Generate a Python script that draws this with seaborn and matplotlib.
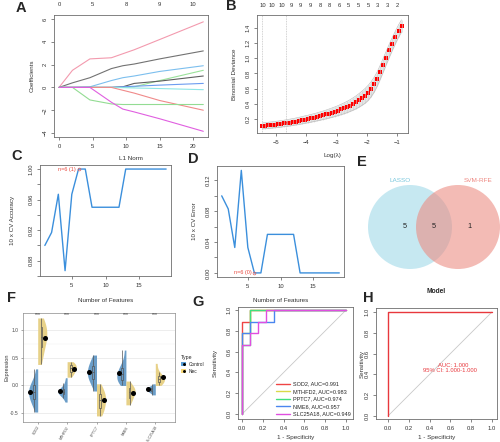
import numpy as np
import pandas as pd
import matplotlib
matplotlib.use("Agg")
import matplotlib.pyplot as plt
from matplotlib.patches import Circle, Patch
from matplotlib.lines import Line2D
import seaborn as sns

# ==========================================
# DATA
# ==========================================
# A - LASSO coefficient paths (L1 norm knots, one list per gene)
a_l1 = [0, 2.0, 4.6, 7.8, 9.5, 11.2, 15.0, 21.5]
a_paths = {
    "g1": [0, 1.5, 2.5, 2.6, 2.95, 3.3, 4.2, 5.75],
    "g2": [0, 0.4, 0.85, 1.65, 1.9, 2.05, 2.5, 3.2],
    "g3": [0, 0, 0.05, 0.6, 0.85, 1.0, 1.4, 1.9],
    "g4": [0, 0, 0, 0, 0, 0.05, 0.6, 1.5],
    "g5": [0, 0, 0, 0, 0.05, 0.35, 0.55, 1.0],
    "g6": [0, 0, 0, 0, 0.05, 0.1, 0.2, 0.35],
    "g7": [0, 0, 0, 0, -0.02, -0.05, -0.1, -0.2],
    "g8": [0, 0, 0, 0, -0.25, -0.5, -1.15, -2.0],
    "g9": [0, 0, -1.1, -1.45, -1.5, -1.5, -1.5, -1.5],
    "g10": [0, 0, 0, -1.3, -1.9, -2.15, -2.75, -3.85],
}
a_colors = ["#f39aae", "#727272", "#7cbfee", "#9be29b", "#5e5e5e",
            "#6c9cf0", "#8ee6e6", "#f08a8a", "#93dc93", "#e05fe0"]
a_top_labels = ["0", "5", "8", "9", "10"]

# B - cross-validated binomial deviance
b_loglam = [-5.45, -5.35, -5.25, -5.15, -5.05, -4.95, -4.85, -4.75, -4.65, -4.55,
            -4.45, -4.35, -4.25, -4.15, -4.05, -3.95, -3.85, -3.75, -3.65, -3.55,
            -3.45, -3.35, -3.25, -3.15, -3.05, -2.95, -2.85, -2.75, -2.65, -2.55,
            -2.45, -2.35, -2.25, -2.15, -2.05, -1.95, -1.85, -1.75, -1.65, -1.55,
            -1.45, -1.35, -1.25, -1.15, -1.05, -0.95, -0.85]
b_dev = [0.107, 0.111, 0.115, 0.119, 0.124,
         0.128, 0.133, 0.139, 0.145, 0.151, 0.158, 0.165, 0.173, 0.181, 0.190,
         0.198, 0.207, 0.216, 0.226, 0.236, 0.247, 0.258, 0.270, 0.282, 0.295,
         0.309, 0.324, 0.340, 0.357, 0.376, 0.397, 0.420, 0.446, 0.475, 0.506,
         0.545, 0.595, 0.655, 0.730, 0.820, 0.915, 1.010, 1.105, 1.195, 1.280, 1.360,
         1.430]
b_se = [0.040, 0.040, 0.041, 0.041, 0.042, 0.042, 0.043, 0.043, 0.044, 0.045,
        0.045, 0.046, 0.047, 0.048, 0.049,
        0.050, 0.051, 0.052, 0.053, 0.055, 0.056, 0.058, 0.060, 0.062, 0.064, 0.066,
        0.069, 0.072, 0.075, 0.078, 0.082, 0.086, 0.090, 0.094, 0.098, 0.100,
        0.100, 0.098, 0.096, 0.094, 0.092, 0.090, 0.088, 0.086, 0.084, 0.082, 0.080]
b_vlines = [-5.45, -4.67]
b_top_pos = [-5.45, -5.13, -4.81, -4.50, -4.18, -3.86, -3.54, -3.23,
             -2.91, -2.59, -2.27, -1.95, -1.64, -1.32, -1.00]
b_top_labels = ["10", "10", "10", "9", "9", "9", "8", "8", "6", "5", "5", "5", "3", "3", "2"]

# C / D - SVM-RFE
n_features = list(range(1, 20))
cv_accuracy = [0.900, 0.917, 0.967, 0.867, 0.967, 1.000, 1.000, 0.950, 0.950, 0.950,
               0.950, 0.950, 1.000, 1.000, 1.000, 1.000, 1.000, 1.000, 1.000]
cv_error = [0.100, 0.083, 0.033, 0.133, 0.033, 0.000, 0.000, 0.050, 0.050, 0.050,
            0.050, 0.050, 0.000, 0.000, 0.000, 0.000, 0.000, 0.000, 0.000]
best_n = 6

# E - Venn
venn_sets = ["LASSO", "SVM-RFE"]
venn_counts = [5, 5, 1]  # LASSO only, both, SVM-RFE only

# F - expression per gene
genes = ["SOD2", "MTHFD2", "PPTC7", "NME6", "SLC25A18"]
ctrl_expr = {
    "SOD2": [-0.48, -0.35, -0.3, -0.25, -0.2, -0.15, -0.12, -0.08, -0.05, 0.0, 0.05, 0.12, 0.3],
    "MTHFD2": [-0.3, -0.22, -0.17, -0.15, -0.13, -0.12, -0.11, -0.1, -0.08, -0.06, -0.03, 0.05, 0.14],
    "PPTC7": [-0.1, 0.02, 0.08, 0.12, 0.16, 0.2, 0.24, 0.28, 0.32, 0.36, 0.4, 0.48, 0.55],
    "NME6": [0.0, 0.05, 0.08, 0.1, 0.13, 0.16, 0.2, 0.24, 0.28, 0.32, 0.35, 0.45, 0.64],
    "SLC25A18": [-0.17, -0.14, -0.12, -0.1, -0.09, -0.08, -0.07, -0.06, -0.05, -0.04, -0.03, -0.01, 0.03],
}
nec_expr = {
    "SOD2": [0.38, 0.55, 0.7, 0.8, 0.88, 0.95, 1.05, 1.12, 1.22],
    "MTHFD2": [0.15, 0.2, 0.24, 0.28, 0.31, 0.34, 0.37, 0.4, 0.43],
    "PPTC7": [-0.55, -0.48, -0.4, -0.32, -0.27, -0.2, -0.15, -0.08, 0.03],
    "NME6": [-0.35, -0.28, -0.22, -0.16, -0.12, -0.08, -0.05, -0.02, 0.08],
    "SLC25A18": [0.0, 0.04, 0.07, 0.1, 0.12, 0.15, 0.18, 0.24, 0.4],
}
sig_labels = ["***", "***", "***", "***", "***"]

# G - ROC per gene
roc_fpr = {
    "SOD2": [0, 0, 0.077, 0.077, 1],
    "MTHFD2": [0, 0, 0.077, 0.077, 1],
    "PPTC7": [0, 0, 0.077, 0.077, 1],
    "NME6": [0, 0, 0.077, 0.077, 0.308, 0.308, 1],
    "SLC25A18": [0, 0, 0.077, 0.077, 0.154, 0.154, 0.231, 0.231, 1],
}
roc_tpr = {
    "SOD2": [0, 0.889, 0.889, 1, 1],
    "MTHFD2": [0, 0.778, 0.778, 1, 1],
    "PPTC7": [0, 0.667, 0.667, 1, 1],
    "NME6": [0, 0.778, 0.778, 0.889, 0.889, 1, 1],
    "SLC25A18": [0, 0.667, 0.667, 0.778, 0.778, 0.889, 0.889, 1, 1],
}
roc_auc = [0.991, 0.983, 0.974, 0.957, 0.949]
roc_colors = ["#ef4444", "#d9d94a", "#3fe07f", "#4a86ef", "#e04ee0"]

# H - combined model
model_fpr = [0, 0, 1]
model_tpr = [0, 1, 1]
model_auc = 1.000
model_ci = (1.000, 1.000)

# ==========================================
# FIGURE
# ==========================================
sns.set_theme(style="white")
plt.rcParams["font.family"] = ["Liberation Sans", "DejaVu Sans"]

W, H = 500, 442
fig = plt.figure(figsize=(W / 100, H / 100), dpi=100)


def add_ax(box):
    l, t, r, b = box
    return fig.add_axes([l / W, 1 - b / H, (r - l) / W, (b - t) / H])


def r_style(ax, fs=4.2):
    for s in ax.spines.values():
        s.set_visible(True)
        s.set_color("#6e6e6e")
        s.set_linewidth(0.6)
    ax.tick_params(axis="both", bottom=True, left=True, direction="out", length=2.2,
                   width=0.5, color="#555555", labelsize=fs, labelcolor="#333333", pad=2.5)
    plt.setp(ax.get_yticklabels(), rotation=90, va="center")


def place_labels(ax, box, xlabel=None, xlab_y=None, ylabel=None, ylab_x=None, fs=4.5):
    l, t, r, b = box
    if xlabel is not None:
        ax.set_xlabel(xlabel, fontsize=fs, color="#333333")
        ax.xaxis.set_label_coords(0.5, (b - xlab_y) / (b - t))
        ax.xaxis.label.set_va("center")
    if ylabel is not None:
        ax.set_ylabel(ylabel, fontsize=fs, color="#333333")
        ax.yaxis.set_label_coords((ylab_x - l) / (r - l), 0.5)
        ax.yaxis.label.set_va("center")


def panel_letter(x, y, s):
    fig.text(x / W, 1 - y / H, s, fontsize=10.5, fontweight="bold", ha="center", va="center")


# ---------- A ----------
box_a = (54, 15, 208, 137)
ax = add_ax(box_a)
df_a = pd.DataFrame([(x, c, k) for k, ys in a_paths.items() for x, c in zip(a_l1, ys)],
                    columns=["l1", "coef", "var"])
sns.lineplot(data=df_a, x="l1", y="coef", hue="var", palette=a_colors, estimator=None,
             sort=False, legend=False, lw=0.8, ax=ax)
ax.set_xlim(-0.75, 22.2)
ax.set_ylim(-4.35, 6.35)
ax.set_xticks([0, 5, 10, 15, 20])
ax.set_yticks([-4, -2, 0, 2, 4, 6])
r_style(ax)
top = ax.secondary_xaxis("top")
top.set_xticks([0, 5, 10, 15, 20], labels=a_top_labels)
top.tick_params(length=0, labelsize=4.2, labelcolor="#333333", pad=5.5)
top.spines["top"].set_visible(False)
place_labels(ax, box_a, "L1 Norm", 159, "Coefficients", 32)

# ---------- B ----------
box_b = (257, 15, 408, 133)
ax = add_ax(box_b)
lo = [d - s for d, s in zip(b_dev, b_se)]
hi = [d + s for d, s in zip(b_dev, b_se)]
ax.fill_between(b_loglam, lo, hi, color="#e4e4e4", lw=0)
ax.errorbar(b_loglam, b_dev, yerr=b_se, fmt="none", ecolor="#cfcfcf", elinewidth=0.4, capsize=0)
ax.plot(b_loglam, lo, color="#b8b8b8", lw=0.4)
ax.plot(b_loglam, hi, color="#b8b8b8", lw=0.4)
for v in b_vlines:
    ax.axvline(v, color="#c4c4c4", lw=0.6, ls=(0, (1, 1)))
sns.scatterplot(x=b_loglam, y=b_dev, color="#ff0000", marker="s", s=7, linewidth=0, ax=ax)
ax.set_xlim(-5.63, -0.636)
ax.set_ylim(0.013, 1.573)
ax.set_xticks([-5, -4, -3, -2, -1])
ax.set_yticks([0.2, 0.4, 0.6, 0.8, 1.0, 1.2, 1.4])
r_style(ax)
top = ax.secondary_xaxis("top")
top.set_xticks(b_top_pos, labels=b_top_labels)
top.tick_params(length=0, labelsize=4.2, labelcolor="#333333", pad=5.0)
top.spines["top"].set_visible(False)
place_labels(ax, box_b, "Log(\u03bb)", 155, "Binomial Deviance", 235)

# ---------- C ----------
box_c = (40, 165, 171, 276)
ax = add_ax(box_c)
sns.lineplot(x=n_features, y=cv_accuracy, color="#3b8fdc", lw=1.0, ax=ax)
ax.plot(best_n, cv_accuracy[best_n - 1], "o", ms=2, mfc="none", mec="#e06060", mew=0.5)
ax.annotate(f"n={best_n} ({cv_accuracy[best_n - 1]:.0f})", xy=(best_n, cv_accuracy[best_n - 1]),
            xytext=(-2, 0), textcoords="offset points", ha="right", va="center",
            fontsize=4, color="#e84a40")
ax.set_xlim(0.28, 19.72)
ax.set_ylim(0.8617, 1.0053)
ax.set_xticks([5, 10, 15])
ax.set_yticks([0.86, 0.88, 0.90, 0.92, 0.94, 0.96, 0.98, 1.00],
              labels=["", "0.88", "", "0.92", "", "0.96", "", "1.00"])
r_style(ax)
place_labels(ax, box_c, "Number of Features", 300, "10 x CV Accuracy", 13)

# ---------- D ----------
box_d = (217, 166, 344, 277)
ax = add_ax(box_d)
sns.lineplot(x=n_features, y=cv_error, color="#3b8fdc", lw=1.0, ax=ax)
ax.plot(best_n, cv_error[best_n - 1], "o", ms=2, mfc="none", mec="#e06060", mew=0.5)
ax.annotate(f"n={best_n} ({cv_error[best_n - 1]:.0f})", xy=(best_n, cv_error[best_n - 1]),
            xytext=(-2, 0), textcoords="offset points", ha="right", va="center",
            fontsize=4, color="#e84a40")
ax.set_xlim(0.28, 19.72)
ax.set_ylim(-0.0053, 0.1387)
ax.set_xticks([5, 10, 15])
ax.set_yticks([0.0, 0.02, 0.04, 0.06, 0.08, 0.10, 0.12],
              labels=["0.00", "", "0.04", "", "0.08", "", "0.12"])
r_style(ax)
place_labels(ax, box_d, "Number of Features", 300, "10 x CV Error", 195)

# ---------- E ----------
ax = add_ax((335, 160, 500, 290))
ax.set_xlim(335, 500)
ax.set_ylim(290, 160)
ax.axis("off")
cy, rad = 227, 42
ax.add_patch(Circle((410, cy), rad, fc="#98d6e7", alpha=0.55, lw=0))
ax.add_patch(Circle((458, cy), rad, fc="#ec8a80", alpha=0.58, lw=0))
ax.text(400, 181, venn_sets[0], color="#77c6dc", fontsize=4.6, ha="center", va="center")
ax.text(478, 181, venn_sets[1], color="#ee8780", fontsize=4.6, ha="center", va="center")
for x, c in zip([405, 434, 469], venn_counts):
    ax.text(x, cy, str(c), fontsize=5.2, ha="center", va="center", color="#222222")

# ---------- F ----------
box_f = (23, 313, 175, 422)
ax = add_ax(box_f)
rows = []
for g in genes:
    rows += [(g, "Control", v) for v in ctrl_expr[g]]
    rows += [(g, "Nec", v) for v in nec_expr[g]]
df_f = pd.DataFrame(rows, columns=["gene", "Type", "expr"])
pal_f = {"Control": "#5a9fd8", "Nec": "#f7d978"}
ax.set_axisbelow(True)
ax.set_yticks([-0.25, 0.25, 0.75], minor=True)
ax.grid(True, which="major", color="#e6e6e6", lw=0.5)
ax.grid(True, which="minor", axis="y", color="#f2f2f2", lw=0.35)
sns.violinplot(data=df_f, x="gene", y="expr", hue="Type", order=genes, hue_order=["Control", "Nec"],
               split=True, inner=None, cut=0, density_norm="width", width=0.62, linewidth=0,
               palette=pal_f, legend=False, ax=ax)
sns.boxplot(data=df_f, x="gene", y="expr", hue="Type", order=genes, hue_order=["Control", "Nec"],
            width=0.5, gap=0.8, dodge=True, showfliers=False, showcaps=False, linewidth=0.5,
            linecolor="#555555", palette=pal_f, legend=False, ax=ax)
sns.pointplot(data=df_f, x="gene", y="expr", hue="Type", order=genes, hue_order=["Control", "Nec"],
              dodge=0.5, errorbar=None, linestyle="none", markers="o", markersize=1.6,
              palette={"Control": "black", "Nec": "black"}, legend=False, ax=ax)
for i, s in enumerate(sig_labels):
    ax.text(i, 1.285, s, ha="center", va="center", fontsize=3.6, color="#333333")
ax.set_xlim(-0.5, 4.67)
ax.set_ylim(-0.66, 1.31)
ax.set_yticks([-0.5, 0.0, 0.5, 1.0], labels=["-0.5", "0.0", "0.5", "1.0"])
for s in ax.spines.values():
    s.set_visible(True)
    s.set_color("#8a8a8a")
    s.set_linewidth(0.5)
ax.tick_params(axis="both", bottom=True, left=True, length=1.5, width=0.4, color="#666666",
               labelsize=3.6, labelcolor="#4d4d4d", pad=1.5)
ax.tick_params(axis="x", labelsize=2.7, pad=0.8)
plt.setp(ax.get_xticklabels(), rotation=60, ha="right", va="top", rotation_mode="anchor")
ax.set_xlabel("")
place_labels(ax, box_f, ylabel="Expression", ylab_x=7, fs=4)
handles = [(Patch(fc=pal_f[k], ec="none"), Line2D([], [], marker="o", color="black", ls="", ms=1.1))
           for k in ["Control", "Nec"]]
fig.legend(handles=handles, labels=["Control", "Nec"], title="Type", loc="upper left",
           bbox_to_anchor=(178 / W, 1 - 352 / H), frameon=False, fontsize=3.4,
           title_fontsize=3.8, handlelength=1.0, handleheight=1.0, labelspacing=0.35,
           handletextpad=0.5, borderpad=0.2, alignment="left")

# ---------- G ----------
box_g = (238, 307, 353, 419)
ax = add_ax(box_g)
ax.plot([0, 1], [0, 1], color="#c8c8c8", lw=0.6)
for g, auc, c in zip(genes, roc_auc, roc_colors):
    sns.lineplot(x=roc_fpr[g], y=roc_tpr[g], sort=False, estimator=None, color=c, lw=1.0,
                 label=f"{g}, AUC={auc:.3f}", ax=ax)
ax.set_xlim(-0.04, 1.067)
ax.set_ylim(-0.048, 1.029)
ticks = [0.0, 0.2, 0.4, 0.6, 0.8, 1.0]
ax.set_xticks(ticks, labels=[f"{t:.1f}" for t in ticks])
ax.set_yticks(ticks, labels=[f"{t:.1f}" for t in ticks])
r_style(ax)
ax.legend(loc="lower right", frameon=False, fontsize=4.0, handlelength=2.6, labelspacing=0.45,
          handletextpad=0.5, borderaxespad=0.2, borderpad=0.2)
place_labels(ax, box_g, "1 - Specificity", 438, "Sensitivity", 215)

# ---------- H ----------
box_h = (376, 308, 497, 419)
ax = add_ax(box_h)
ax.plot([0, 1], [0, 1], color="#c8c8c8", lw=0.6)
sns.lineplot(x=model_fpr, y=model_tpr, sort=False, estimator=None, color="#e8383d", lw=1.0, ax=ax)
ax.text(0.625, 0.49, f"AUC: {model_auc:.3f}", color="#e8383d", fontsize=4.2, ha="center", va="center")
ax.text(0.60, 0.435, f"95% CI: {model_ci[0]:.3f}-{model_ci[1]:.3f}", color="#e8383d",
        fontsize=4.2, ha="center", va="center")
ax.set_xlim(-0.115, 1.048)
ax.set_ylim(-0.029, 1.038)
ax.set_xticks(ticks, labels=[f"{t:.1f}" for t in ticks])
ax.set_yticks(ticks, labels=[f"{t:.1f}" for t in ticks])
r_style(ax)
ax.set_title("Model", fontsize=4.8, fontweight="bold", y=(419 - 300) / (419 - 308), va="center")
place_labels(ax, box_h, "1 - Specificity", 438, "Sensitivity", 362)

# panel letters
for x, y, s in [(21, 8, "A"), (231, 6, "B"), (17, 156, "C"), (193, 159, "D"),
                (362, 162, "E"), (11, 298, "F"), (198, 302, "G"), (368, 298, "H")]:
    panel_letter(x, y, s)

fig.savefig("out.png", dpi=100)
